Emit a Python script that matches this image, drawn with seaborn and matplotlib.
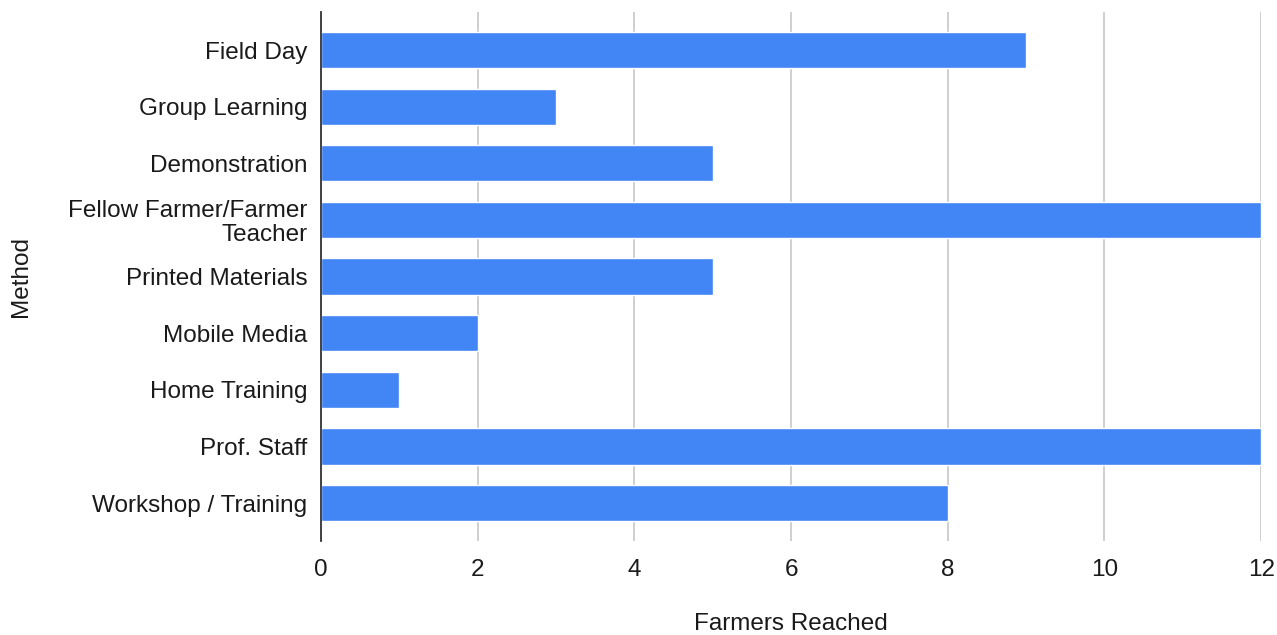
import matplotlib
matplotlib.use("Agg")
import matplotlib.pyplot as plt
import seaborn as sns
import pandas as pd

methods = [
    "Field Day",
    "Group Learning",
    "Demonstration",
    "Fellow Farmer/Farmer\nTeacher",
    "Printed Materials",
    "Mobile Media",
    "Home Training",
    "Prof. Staff",
    "Workshop / Training",
]
farmers_reached = [9, 3, 5, 12, 5, 2, 1, 12, 8]
x_ticks = [0, 2, 4, 6, 8, 10, 12]

df = pd.DataFrame({"Method": methods, "Farmers Reached": farmers_reached})

sns.set_theme(style="white")
plt.rcParams["font.family"] = ["Liberation Sans", "DejaVu Sans"]

fig = plt.figure(figsize=(12.77, 6.35), dpi=100)
ax = fig.add_axes([0.2514, 0.148, 0.7362, 0.833])

sns.barplot(data=df, x="Farmers Reached", y="Method", orient="h",
            color="#4285F4", saturation=1, width=0.64, ax=ax, zorder=3)

ax.set_xlim(0, 12)
ax.set_ylim(8.67, -0.67)
ax.set_xticks(x_ticks)
ax.set_xticklabels([str(t) for t in x_ticks])
ax.xaxis.grid(True, color="#cccccc", linewidth=1.3, zorder=0)
ax.yaxis.grid(False)
ax.set_axisbelow(True)

for s in ["top", "right", "bottom"]:
    ax.spines[s].set_visible(False)
ax.spines["left"].set_color("#333333")
ax.spines["left"].set_linewidth(1.3)
ax.spines["left"].set_zorder(4)

fs = 17.5
ax.tick_params(axis="both", length=0, labelsize=fs, colors="#1a1a1a")
ax.tick_params(axis="x", pad=13)
ax.tick_params(axis="y", pad=10)
for lbl in ax.get_yticklabels():
    lbl.set_horizontalalignment("right")
    lbl.set_multialignment("right")
    lbl.set_linespacing(1.12)

ax.set_xlabel("Farmers Reached", fontsize=fs, color="#1a1a1a", labelpad=23)
ax.set_ylabel("Method", fontsize=fs, color="#1a1a1a", labelpad=26)

fig.savefig("out.png", dpi=100, facecolor="white")
